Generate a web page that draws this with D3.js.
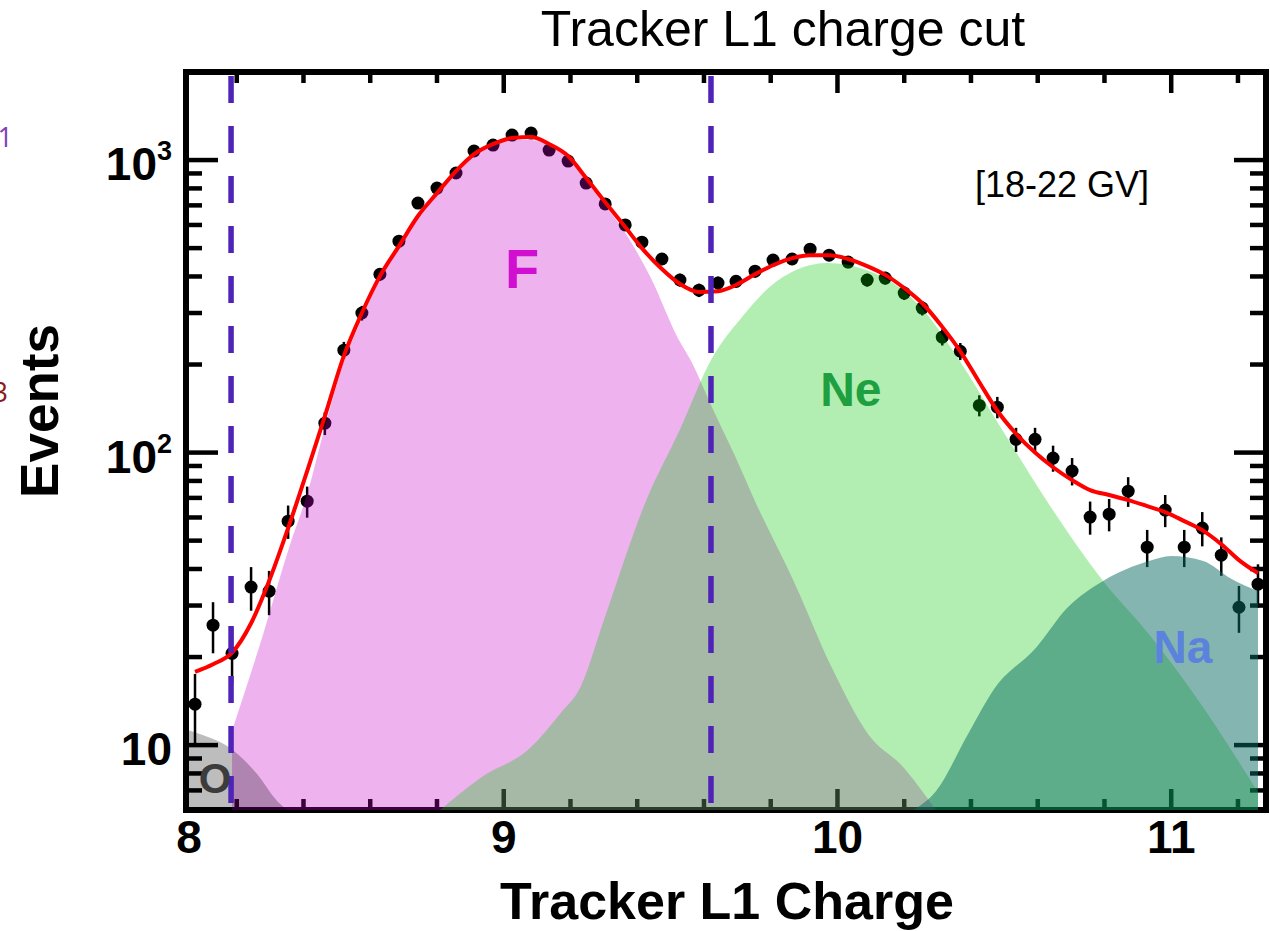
<!DOCTYPE html>
<html>
<head>
<meta charset="utf-8">
<script src="https://cdn.jsdelivr.net/npm/d3@7"></script>
<style>
  html, body { margin: 0; padding: 0; background: #fff; }
  svg { display: block; font-family: 'Liberation Sans', Arial, Helvetica, sans-serif; }
</style>
</head>
<body>
<div id="chart"></div>
<script>
// Bin centres (tracker L1 charge) and the measured events
const charge = [8.075, 8.129, 8.186, 8.243, 8.297, 8.354, 8.411, 8.464, 8.521, 8.575,
  8.629, 8.686, 8.743, 8.800, 8.857, 8.911, 8.968, 9.025, 9.082, 9.136,
  9.193, 9.247, 9.304, 9.364, 9.414, 9.474, 9.528, 9.585, 9.642, 9.696,
  9.753, 9.807, 9.864, 9.918, 9.975, 10.032, 10.089, 10.143, 10.200, 10.254,
  10.314, 10.368, 10.425, 10.479, 10.535, 10.592, 10.646, 10.703, 10.757, 10.814,
  10.871, 10.928, 10.982, 11.039, 11.093, 11.150, 11.203, 11.260];
const events = [13.8, 25.7, 20.6, 34.7, 33.6, 58.3, 68.2, 126, 224, 300,
  407, 528, 713, 802, 903, 1074, 1125, 1217, 1237, 1082,
  992, 834, 708, 600, 524, 459, 389, 359, 380, 385,
  417, 455, 459, 496, 473, 448, 389, 395, 351, 312,
  248, 222, 145, 143, 111, 111, 95.8, 86.5, 60.2, 61.6,
  73.8, 47.5, 63.6, 47.5, 55.2, 44.6, 29.6, 35.5];
const errors = [3.7, 5.1, 4.5, 5.9, 5.8, 7.6, 8.3, 11.2, 15.0, 17.3,
  20.2, 23.0, 26.7, 28.3, 30.0, 32.8, 33.5, 34.9, 35.2, 32.9,
  31.5, 28.9, 26.6, 24.5, 22.9, 21.4, 19.7, 18.9, 19.5, 19.6,
  20.4, 21.3, 21.4, 22.3, 21.7, 21.2, 19.7, 19.9, 18.7, 17.7,
  15.7, 14.9, 12.0, 12.0, 10.5, 10.5, 9.8, 9.3, 7.8, 7.8,
  8.6, 6.9, 8.0, 6.9, 7.4, 6.7, 5.4, 6.0];
// Total fit at the bin centres
const fit = [17.8, 18.9, 20.7, 26.1, 36.4, 55.2, 86.5, 133, 214, 300,
  401, 508, 644, 771, 917, 1048, 1134, 1189, 1198, 1134,
  1032, 868, 718, 590, 500, 424, 377, 354, 356, 374,
  407, 437, 462, 473, 473, 459, 434, 405, 365, 324,
  269, 222, 174, 139, 116, 100, 89.1, 80.5, 74.4, 71.6,
  68.8, 65.6, 62.6, 58.3, 54.3, 48.6, 42.9, 38.7];

// Template components
const oX = [8.048, 8.100, 8.180, 8.261, 8.321, 8.351];
const oY = [11.3, 10.8, 9.77, 7.96, 6.44, 6.0];
const fX = [8.186, 8.279, 8.360, 8.411, 8.464, 8.521, 8.575, 8.629, 8.686, 8.743,
  8.800, 8.857, 8.911, 8.968, 9.025, 9.082, 9.136, 9.193, 9.247, 9.304,
  9.346, 9.441, 9.522, 9.561, 9.624, 9.693, 9.753, 9.873, 9.984, 10.092,
  10.200, 10.254, 10.295];
const fY = [11.2, 23.9, 48.6, 72, 122, 204, 286, 392, 504, 638,
  765, 903, 1032, 1117, 1170, 1170, 1117, 1016, 848, 696,
  604, 395, 246, 206, 143, 97.3, 68.2, 35.5, 18.3, 10.9,
  8.34, 6.96, 6.0];
const neX = [8.809, 8.929, 9.079, 9.169, 9.229, 9.304, 9.426, 9.528, 9.624, 9.711,
  9.819, 9.969, 10.119, 10.254, 10.361, 10.487, 10.628, 10.796, 10.934, 11.069, 11.260];
const neY = [6.0, 7.71, 9.77, 12.8, 15.7, 27.6, 68.2, 120, 210, 288,
  386, 445, 407, 310, 210, 123, 68.2, 36.4, 23.9, 14.9, 6.9];
const naX = [10.227, 10.295, 10.391, 10.472, 10.595, 10.688, 10.796, 10.934, 11.000, 11.096, 11.177, 11.260];
const naY = [6.0, 6.96, 10.9, 15.7, 21.5, 29.4, 36.4, 42.6, 44.3, 42.6, 37.2, 33.6];

const cuts = [8.183, 9.621];

const xMajor = [9, 10, 11];
const xMinor = [8.2, 8.4, 8.6, 8.8, 9.2, 9.4, 9.6, 9.8, 10.2, 10.4, 10.6, 10.8, 11.2];
const xLabels = ['8', '9', '10', '11'];
const xLabelValues = [8, 9, 10, 11];
const yMajor = [10, 100, 1000];
const yMinor = [7, 8, 9, 20, 30, 40, 50, 60, 70, 80, 90, 200, 300, 400, 500, 600, 700, 800, 900];
const yExponents = ['', '2', '3'];

const width = 1270;
const height = 931;
const margin = {top: 72, right: 4, bottom: 121, left: 186};

const x = d3.scaleLinear()
  .domain([8.048, 11.284])
  .range([margin.left, width - margin.right]);
const y = d3.scaleLog()
  .domain([6, 2000])
  .range([height - margin.bottom, margin.top]);

const [x0, x1] = x.range();
const [yb, yt] = y.range();

const svg = d3.select('#chart').append('svg')
  .attr('width', width)
  .attr('height', height)
  .attr('viewBox', `0 0 ${width} ${height}`);

svg.append('rect').attr('width', width).attr('height', height).attr('fill', '#fff');

svg.append('defs').append('clipPath').attr('id', 'plot-clip')
  .append('rect')
    .attr('x', x0).attr('y', yt)
    .attr('width', x1 - x0).attr('height', yb - yt);

// Ticks (drawn first, the fills tint them)
const ticks = svg.append('g').attr('stroke', '#000').attr('stroke-width', 4.5);
const xTick = (vals, len) => {
  ticks.selectAll(null).data(vals).enter().append('line')
    .attr('x1', d => x(d)).attr('x2', d => x(d))
    .attr('y1', yb).attr('y2', yb - len);
  ticks.selectAll(null).data(vals).enter().append('line')
    .attr('x1', d => x(d)).attr('x2', d => x(d))
    .attr('y1', yt).attr('y2', yt + len);
};
xTick(xMajor, 21);
xTick(xMinor, 11);
const yTick = (vals, len) => {
  ticks.selectAll(null).data(vals).enter().append('line')
    .attr('x1', x0).attr('x2', x0 + len)
    .attr('y1', d => y(d)).attr('y2', d => y(d));
  ticks.selectAll(null).data(vals).enter().append('line')
    .attr('x1', x1).attr('x2', x1 - len)
    .attr('y1', d => y(d)).attr('y2', d => y(d));
};
yTick(yMajor, 32);
yTick(yMinor, 16);

// Frame
svg.append('rect')
  .attr('x', x0).attr('y', yt)
  .attr('width', x1 - x0).attr('height', yb - yt)
  .attr('fill', 'none')
  .attr('stroke', '#000')
  .attr('stroke-width', 6);

// Data points
const pts = charge.map((c, i) => ({c: c, v: events[i], e: errors[i]}));
const dataG = svg.append('g');
dataG.selectAll('line').data(pts).enter().append('line')
  .attr('x1', d => x(d.c)).attr('x2', d => x(d.c))
  .attr('y1', d => y(d.v + d.e)).attr('y2', d => y(Math.max(d.v - d.e, 6)))
  .attr('stroke', '#000').attr('stroke-width', 2.5);
dataG.selectAll('circle').data(pts).enter().append('circle')
  .attr('cx', d => x(d.c)).attr('cy', d => y(d.v))
  .attr('r', 6.5).attr('fill', '#000');

// Template fills
const area = d3.area()
  .x(d => x(d[0]))
  .y0(yb)
  .y1(d => y(d[1]))
  .curve(d3.curveMonotoneX);
const fills = svg.append('g').attr('clip-path', 'url(#plot-clip)');
const comps = [
  {xs: fX, ys: fY, color: 'rgb(200,0,200)', op: 0.3},
  {xs: neX, ys: neY, color: 'rgb(0,200,0)', op: 0.3},
  {xs: naX, ys: naY, color: 'rgb(9,108,98)', op: 0.5},
  {xs: oX, ys: oY, color: '#000', op: 0.26}
];
comps.forEach(c => {
  fills.append('path')
    .datum(c.xs.map((v, i) => [v, c.ys[i]]))
    .attr('d', area)
    .attr('fill', c.color)
    .attr('fill-opacity', c.op);
});

// Fit
const line = d3.line()
  .x(d => x(d[0]))
  .y(d => y(d[1]))
  .curve(d3.curveMonotoneX);
svg.append('path')
  .datum(charge.map((c, i) => [c, fit[i]]))
  .attr('d', line)
  .attr('fill', 'none')
  .attr('stroke', '#ff0000')
  .attr('stroke-width', 4);

// Cut lines
svg.append('g').selectAll('line').data(cuts).enter().append('line')
  .attr('x1', d => x(d)).attr('x2', d => x(d))
  .attr('y1', yt + 4).attr('y2', yb + 2)
  .attr('stroke', '#4f22b8')
  .attr('stroke-width', 5.5)
  .attr('stroke-dasharray', '27,23');

// Tick labels
svg.append('g').selectAll('text').data(xLabelValues).enter().append('text')
  .attr('x', d => Math.max(x(d), x0 + 3))
  .attr('y', 853)
  .attr('text-anchor', 'middle')
  .attr('font-size', 46)
  .attr('font-weight', 'bold')
  .text((d, i) => xLabels[i]);

const yl = svg.append('g').selectAll('text').data(yMajor).enter().append('text')
  .attr('x', 172)
  .attr('y', d => y(d) + 20)
  .attr('text-anchor', 'end')
  .attr('font-size', 46)
  .attr('font-weight', 'bold');
yl.append('tspan').text('10');
yl.append('tspan')
  .attr('font-size', 27)
  .attr('dy', -20)
  .text((d, i) => yExponents[i]);

// Axis titles
svg.append('text')
  .attr('x', 727).attr('y', 919)
  .attr('text-anchor', 'middle')
  .attr('font-size', 52)
  .attr('font-weight', 'bold')
  .text('Tracker L1 Charge');
svg.append('text')
  .attr('transform', 'translate(58,411) rotate(-90)')
  .attr('text-anchor', 'middle')
  .attr('font-size', 53)
  .attr('font-weight', 'bold')
  .text('Events');
svg.append('text')
  .attr('x', 783).attr('y', 46)
  .attr('text-anchor', 'middle')
  .attr('font-size', 50)
  .text('Tracker L1 charge cut');
svg.append('text')
  .attr('x', 1062).attr('y', 197)
  .attr('text-anchor', 'middle')
  .attr('font-size', 36)
  .text('[18-22 GV]');

// Component labels
const compLabels = [
  {t: 'F', c: 9.055, v: 366, size: 56, color: '#d10fd1'},
  {t: 'Ne', c: 10.04, v: 144, size: 48, color: '#1fa040'},
  {t: 'Na', c: 11.035, v: 19.1, size: 46, color: '#5b82dc'},
  {t: 'O', c: 8.135, v: 6.86, size: 42, color: '#3c3c3c'}
];
svg.append('g').selectAll('text').data(compLabels).enter().append('text')
  .attr('x', d => x(d.c))
  .attr('y', d => y(d.v))
  .attr('text-anchor', 'middle')
  .attr('font-size', d => d.size)
  .attr('font-weight', 'bold')
  .attr('fill', d => d.color)
  .text(d => d.t);

// Clipped labels at the left edge
svg.append('text')
  .attr('x', 13).attr('y', 147)
  .attr('text-anchor', 'end')
  .attr('font-family', "'Open Sans', sans-serif")
  .attr('font-size', 27)
  .attr('fill', '#7f3fbf')
  .text('1');
svg.append('text')
  .attr('x', 8).attr('y', 402)
  .attr('text-anchor', 'end')
  .attr('font-family', "'Open Sans', sans-serif")
  .attr('font-size', 27)
  .attr('fill', '#8b1a1a')
  .text('3');
</script>
</body>
</html>
